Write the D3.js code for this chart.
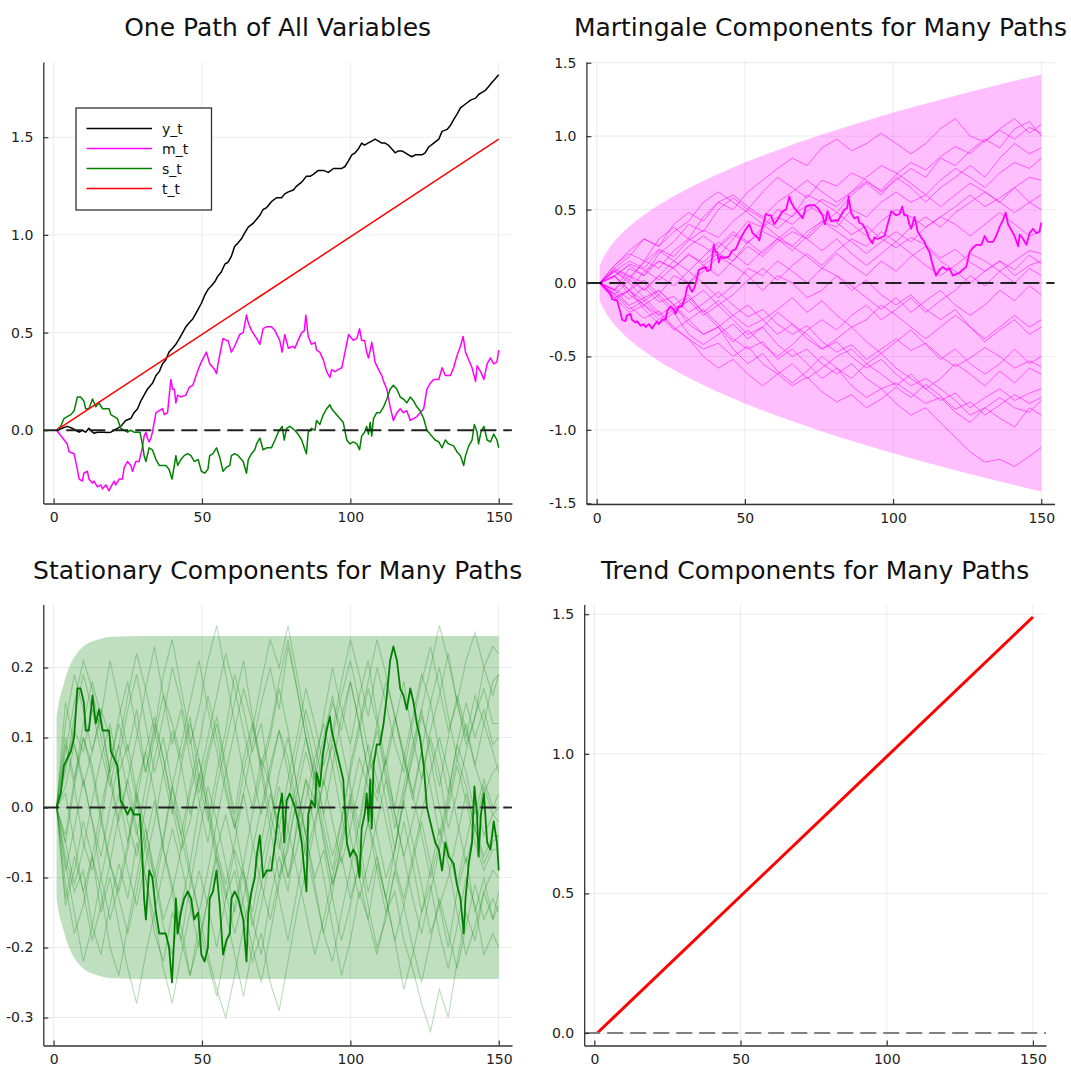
<!DOCTYPE html>
<html>
<head>
<meta charset="utf-8">
<script src="https://cdn.jsdelivr.net/npm/d3@7"></script>
<style>
  body { margin: 0; background: white; }
  svg text { font-family: "DejaVu Sans", sans-serif; }
</style>
</head>
<body>
<div id="chart"></div>
<script>
// ---- data ----
const xTicks = [0, 50, 100, 150];

// one path of all variables, [t, value]
const yPath = [[1,0],[2.9,0.01],[4.6,0.02],[6.3,0.01],[7.4,0],[8.6,-0.01],[9.7,0],[10.8,-0.01],[11.9,0.01],[13.1,-0.01],[13.6,-0.015],[14.8,-0.01],[15.9,-0.01],[17,-0.01],[18.1,-0.012],[19.3,-0.01],[20.4,0],[21.5,0.01],[22.6,0.02],[23.2,0.03],[24.3,0.05],[26,0.06],[27.1,0.09],[28.3,0.11],[29.4,0.15],[30.5,0.18],[31.6,0.21],[33.3,0.24],[34.5,0.28],[35.6,0.3],[36.7,0.34],[37.8,0.36],[38.9,0.4],[40.1,0.42],[41.2,0.44],[42.4,0.47],[43.5,0.5],[44.6,0.53],[45.7,0.55],[46.9,0.57],[48,0.6],[49.8,0.65],[50.9,0.69],[52,0.72],[53.2,0.74],[54.3,0.76],[55.4,0.79],[56.5,0.81],[57.7,0.85],[58.8,0.86],[59.9,0.89],[61,0.94],[62.2,0.96],[63.3,0.98],[64.4,1.01],[65.6,1.04],[67.3,1.06],[68.4,1.08],[69.5,1.1],[70.6,1.13],[71.8,1.14],[73.4,1.17],[75.1,1.19],[76.8,1.19],[77.9,1.21],[79.1,1.22],[80.8,1.23],[81.9,1.25],[83.6,1.27],[85.2,1.3],[86.4,1.3],[87.5,1.31],[89.2,1.33],[90.9,1.33],[92.6,1.32],[94.3,1.34],[96,1.34],[97.1,1.34],[98.2,1.35],[99.4,1.38],[100.5,1.41],[101.6,1.42],[102.7,1.44],[103.8,1.47],[104.8,1.46],[105.9,1.47],[107.2,1.48],[108.3,1.49],[109.5,1.48],[110.6,1.47],[111.7,1.47],[112.8,1.46],[114,1.44],[115.1,1.42],[116.2,1.43],[117.4,1.43],[118.5,1.42],[119.6,1.41],[120.7,1.4],[121.9,1.41],[123,1.41],[124.1,1.41],[125.2,1.42],[126.4,1.45],[128.1,1.47],[129.8,1.49],[130.9,1.53],[132.6,1.54],[133.7,1.56],[134.8,1.59],[136,1.62],[137.1,1.65],[138.8,1.67],[140.5,1.69],[142.2,1.7],[143.3,1.72],[144.4,1.73],[145.5,1.74],[146.6,1.76],[147.7,1.78],[148.9,1.8],[150,1.82]];

const mPath = [[1,0],[4.6,-0.07],[5.2,-0.11],[6.9,-0.12],[8,-0.2],[8.6,-0.25],[9.7,-0.26],[10.2,-0.22],[11.4,-0.21],[11.9,-0.25],[13.1,-0.27],[13.6,-0.26],[14.8,-0.29],[15.9,-0.28],[16.5,-0.3],[17.6,-0.28],[18.7,-0.31],[19.3,-0.29],[20.4,-0.26],[20.9,-0.28],[22.1,-0.25],[23.2,-0.25],[23.8,-0.19],[24.9,-0.16],[26,-0.18],[26.6,-0.21],[27.7,-0.16],[28.8,-0.16],[29.9,-0.09],[30.5,-0.03],[31.1,-0.01],[31.6,-0.04],[32.2,-0.06],[32.8,-0.04],[33.3,-0.01],[34.5,0.09],[35.6,0.1],[36.7,0.11],[37.3,0.08],[38.4,0.09],[39.5,0.26],[40.1,0.21],[40.7,0.21],[41.2,0.14],[41.8,0.18],[42.9,0.17],[44.6,0.18],[45.7,0.22],[46.9,0.23],[48.7,0.31],[49.8,0.35],[51.5,0.4],[52.6,0.34],[54.3,0.31],[54.9,0.29],[55.4,0.34],[57.1,0.47],[58.2,0.46],[58.8,0.46],[59.9,0.4],[61,0.43],[62.7,0.49],[63.9,0.5],[65,0.59],[65.6,0.55],[66.7,0.51],[68.4,0.47],[69.5,0.44],[70.6,0.52],[71.8,0.53],[73.4,0.53],[74.6,0.51],[76.2,0.46],[77,0.4],[77.9,0.49],[79.1,0.42],[80.8,0.43],[81.3,0.42],[82.4,0.46],[83.6,0.5],[84.5,0.51],[85,0.59],[85.8,0.48],[86.9,0.44],[88.1,0.45],[88.6,0.41],[89.7,0.4],[90.9,0.36],[92,0.3],[93.1,0.27],[93.7,0.31],[94.8,0.3],[95.9,0.31],[97.1,0.32],[98.2,0.4],[99.4,0.49],[101,0.46],[102.2,0.47],[103.1,0.52],[103.8,0.46],[104.8,0.46],[105.5,0.4],[106.1,0.37],[106.7,0.41],[107.2,0.45],[107.8,0.4],[108.3,0.35],[109.5,0.31],[110.6,0.28],[111.2,0.25],[112.3,0.21],[113.4,0.12],[114.5,0.05],[115.7,0.09],[116.8,0.11],[117.9,0.09],[119,0.1],[120.2,0.05],[121.3,0.06],[122.4,0.07],[123.5,0.09],[124.7,0.11],[125.8,0.21],[126.9,0.24],[128.1,0.26],[129.8,0.26],[130.9,0.32],[132,0.28],[133.7,0.28],[134.8,0.32],[135.9,0.38],[137.1,0.43],[138,0.48],[138.8,0.4],[139.9,0.36],[141,0.32],[142.2,0.25],[142.7,0.33],[143.9,0.3],[145,0.26],[146.1,0.34],[147.2,0.37],[148.3,0.34],[149.4,0.35],[150,0.41]];

const sPath = [[1,0],[2.4,0.02],[3.5,0.06],[4.6,0.07],[5.8,0.08],[6.9,0.1],[7.4,0.13],[8,0.17],[9.1,0.17],[10.2,0.15],[10.8,0.11],[11.9,0.11],[13.1,0.16],[14.2,0.12],[15.3,0.14],[16.5,0.11],[17.6,0.11],[18.7,0.11],[19.3,0.08],[20.4,0.07],[21.5,0.06],[22.6,0.01],[23.8,0],[24.9,-0.01],[26,0],[27.1,-0.01],[28.3,-0.01],[29.1,-0.01],[29.9,-0.07],[30.5,-0.13],[31.1,-0.16],[32.2,-0.09],[33.3,-0.1],[34.5,-0.15],[35.6,-0.18],[36.7,-0.18],[37.8,-0.18],[38.9,-0.2],[39.9,-0.25],[40.7,-0.18],[41.2,-0.13],[41.8,-0.18],[42.9,-0.15],[44,-0.13],[45.2,-0.12],[46.3,-0.13],[47.4,-0.16],[48.7,-0.15],[49.8,-0.21],[50.9,-0.22],[52,-0.2],[52.6,-0.13],[53.7,-0.12],[54.9,-0.09],[56,-0.14],[57.1,-0.21],[58.2,-0.19],[59.4,-0.18],[59.9,-0.13],[61,-0.12],[62.2,-0.13],[63.9,-0.16],[65,-0.22],[65.6,-0.15],[66.7,-0.12],[67.8,-0.1],[68.4,-0.07],[69.5,-0.04],[70.6,-0.1],[71.8,-0.09],[73.4,-0.09],[74.6,-0.05],[75.7,-0.01],[77,0.02],[77.7,-0.05],[78.5,0.01],[79.6,0.02],[81.3,0],[82.4,-0.02],[83.6,-0.05],[84.7,-0.1],[85.2,-0.12],[85.8,-0.01],[86.9,0.01],[88.1,0],[88.6,0.05],[89.7,0.03],[90.9,0.08],[92,0.11],[93.1,0.13],[93.7,0.11],[94.8,0.09],[96.5,0.06],[97.6,0.04],[98.8,-0.05],[99.9,-0.07],[101,-0.06],[102.2,-0.07],[103.1,-0.1],[103.8,-0.03],[104.8,-0.01],[105.5,0.02],[106.1,-0.02],[106.7,0.04],[107.2,-0.03],[107.8,0.06],[108.9,0.09],[110,0.09],[111.2,0.12],[112.3,0.16],[113.4,0.21],[114.5,0.23],[115.7,0.21],[116.8,0.17],[117.9,0.16],[119,0.14],[120.2,0.17],[121.3,0.15],[122.4,0.12],[123.5,0.1],[124.7,0.06],[125.8,0],[126.9,-0.02],[128.6,-0.05],[129.8,-0.06],[130.9,-0.09],[132,-0.05],[133.1,-0.07],[134.8,-0.08],[135.9,-0.11],[137.1,-0.13],[138.2,-0.18],[138.8,-0.13],[139.9,-0.08],[141,-0.05],[141.8,0.03],[142.7,-0.01],[143.2,-0.07],[144,-0.01],[145,0.02],[146.1,-0.05],[147.2,-0.06],[148.3,-0.02],[149.4,-0.05],[150,-0.09]];

const trendPath = [[1,0],[150,1.49]];

// martingale components, many paths (values at martT)
const martT = [1,6,11,16,21,26,31,36,41,46,51,56,61,66,71,76,81,86,91,96,101,106,111,116,121,126,131,136,141,146,150];
const martPaths = [
  [0,0.12,0.2,0.15,0.3,0.38,0.3,0.45,0.55,0.5,0.62,0.7,0.78,0.85,0.8,0.92,0.98,0.9,0.95,1.02,0.95,0.88,0.95,1.05,1.12,1.0,0.96,1.05,1.12,1.02,1.08],
  [0,-0.05,0.1,0.05,0.2,0.28,0.4,0.35,0.5,0.58,0.5,0.62,0.72,0.65,0.58,0.7,0.66,0.75,0.7,0.62,0.7,0.78,0.72,0.85,0.8,0.9,0.98,0.92,1.05,1.1,1.0],
  [0,0.08,0.02,0.15,0.1,0.22,0.3,0.25,0.18,0.3,0.42,0.38,0.5,0.45,0.6,0.55,0.48,0.6,0.68,0.6,0.72,0.65,0.55,0.65,0.72,0.8,0.72,0.85,0.95,0.88,0.92],
  [0,0.1,0.18,0.3,0.25,0.4,0.48,0.42,0.55,0.6,0.52,0.45,0.55,0.62,0.7,0.62,0.55,0.62,0.72,0.8,0.75,0.68,0.6,0.7,0.78,0.72,0.65,0.75,0.82,0.78,0.85],
  [0,-0.1,-0.05,-0.15,-0.08,0.05,0,0.12,0.2,0.15,0.28,0.35,0.3,0.22,0.32,0.42,0.38,0.5,0.45,0.55,0.62,0.55,0.6,0.52,0.6,0.68,0.62,0.55,0.65,0.72,0.7],
  [0,0.05,-0.05,0.08,0.15,0.1,0.2,0.12,0.05,0.15,0.25,0.18,0.28,0.35,0.3,0.4,0.48,0.4,0.32,0.42,0.5,0.45,0.38,0.45,0.52,0.6,0.52,0.58,0.65,0.55,0.6],
  [0,0.08,0.15,0.1,0.22,0.15,0.25,0.32,0.25,0.35,0.28,0.2,0.3,0.38,0.3,0.22,0.3,0.2,0.12,0.2,0.28,0.2,0.12,0.05,0.12,0.2,0.15,0.08,0.15,0.22,0.2],
  [0,-0.08,0.02,-0.05,0.05,-0.02,0.08,0,-0.1,-0.02,0.1,0.05,0.15,0.08,0,0.1,0.2,0.12,0.05,0.15,0.08,0.18,0.25,0.15,0.08,0,0.08,0.15,0.05,0.12,0.15],
  [0,0.05,0.12,0.05,0.15,0.1,0,0.08,0.18,0.12,0.05,-0.05,0.05,0,-0.1,-0.05,0.05,-0.02,-0.1,-0.18,-0.1,-0.2,-0.12,-0.05,-0.15,-0.22,-0.15,-0.05,-0.12,-0.02,-0.08],
  [0,-0.1,-0.2,-0.15,-0.25,-0.18,-0.1,-0.2,-0.3,-0.22,-0.15,-0.25,-0.18,-0.1,-0.2,-0.12,-0.22,-0.3,-0.25,-0.15,-0.22,-0.3,-0.38,-0.3,-0.22,-0.3,-0.4,-0.32,-0.25,-0.35,-0.3],
  [0,-0.12,-0.05,-0.18,-0.28,-0.2,-0.35,-0.42,-0.35,-0.28,-0.38,-0.3,-0.2,-0.28,-0.35,-0.45,-0.38,-0.3,-0.4,-0.48,-0.4,-0.32,-0.42,-0.52,-0.45,-0.55,-0.62,-0.55,-0.45,-0.55,-0.5],
  [0,0.05,-0.05,-0.12,-0.05,-0.15,-0.25,-0.35,-0.3,-0.45,-0.55,-0.48,-0.6,-0.68,-0.6,-0.5,-0.58,-0.65,-0.55,-0.62,-0.7,-0.62,-0.72,-0.65,-0.55,-0.62,-0.7,-0.6,-0.68,-0.58,-0.62],
  [0,-0.05,-0.15,-0.1,-0.2,-0.3,-0.38,-0.5,-0.58,-0.52,-0.62,-0.7,-0.62,-0.55,-0.65,-0.58,-0.5,-0.45,-0.55,-0.48,-0.58,-0.65,-0.72,-0.8,-0.75,-0.85,-0.78,-0.72,-0.8,-0.75,-0.72],
  [0,0.08,0,-0.1,-0.05,-0.15,-0.08,-0.2,-0.12,-0.22,-0.3,-0.25,-0.35,-0.28,-0.38,-0.45,-0.4,-0.5,-0.58,-0.52,-0.62,-0.7,-0.65,-0.72,-0.8,-0.9,-0.85,-0.78,-0.85,-0.88,-0.8],
  [0,-0.1,-0.05,0.02,-0.08,-0.18,-0.12,-0.22,-0.15,-0.25,-0.35,-0.3,-0.42,-0.5,-0.45,-0.55,-0.62,-0.55,-0.65,-0.72,-0.68,-0.75,-0.82,-0.78,-0.88,-0.95,-0.85,-0.92,-0.98,-0.85,-0.9],
  [0,-0.08,-0.18,-0.12,-0.22,-0.32,-0.25,-0.18,-0.28,-0.38,-0.45,-0.4,-0.52,-0.45,-0.55,-0.65,-0.58,-0.7,-0.78,-0.72,-0.82,-0.9,-0.85,-0.95,-1.05,-1.15,-1.22,-1.2,-1.25,-1.18,-1.12],
  [0,0.1,0.05,-0.05,0.05,0.15,0.08,0.18,0.28,0.2,0.12,0.22,0.3,0.25,0.35,0.42,0.35,0.28,0.2,0.28,0.35,0.28,0.38,0.45,0.4,0.32,0.4,0.48,0.4,0.32,0.35],
  [0,0.05,-0.08,-0.15,-0.22,-0.15,-0.28,-0.35,-0.3,-0.4,-0.32,-0.42,-0.5,-0.42,-0.32,-0.25,-0.32,-0.22,-0.15,-0.25,-0.18,-0.1,-0.2,-0.12,-0.05,0.05,-0.02,0.08,0,0.1,0.05],
  [0,0.12,0.22,0.3,0.25,0.35,0.42,0.55,0.62,0.55,0.48,0.4,0.32,0.25,0.18,0.1,0.05,-0.05,0.02,-0.08,-0.15,-0.08,-0.18,-0.25,-0.18,-0.3,-0.38,-0.3,-0.22,-0.3,-0.25],
  [0,-0.05,0.05,0,-0.1,-0.2,-0.12,-0.05,-0.15,-0.08,0.02,0.1,0.02,0.12,0.2,0.12,0.22,0.3,0.25,0.35,0.28,0.38,0.45,0.38,0.48,0.55,0.62,0.55,0.48,0.55,0.5],
  [0,0.09,0.04,0.14,0.23,0.18,0.29,0.36,0.31,0.42,0.5,0.44,0.37,0.46,0.53,0.47,0.41,0.33,0.39,0.3,0.24,0.31,0.26,0.17,0.23,0.14,0.08,0.15,0.09,0.19,0.13],
  [0,-0.07,-0.16,-0.24,-0.19,-0.31,-0.38,-0.45,-0.41,-0.5,-0.43,-0.55,-0.62,-0.7,-0.64,-0.74,-0.81,-0.76,-0.85,-0.79,-0.71,-0.78,-0.69,-0.77,-0.86,-0.81,-0.9,-0.83,-0.76,-0.82,-0.78],
  [0,0.04,0.13,0.09,0.02,0.11,0.19,0.14,0.24,0.33,0.27,0.38,0.45,0.4,0.49,0.57,0.52,0.62,0.69,0.63,0.74,0.82,0.77,0.86,0.93,0.88,0.97,1.04,0.98,1.06,1.02],
  [0,-0.04,-0.11,-0.03,-0.13,-0.09,-0.2,-0.14,-0.06,-0.15,-0.23,-0.18,-0.28,-0.35,-0.29,-0.4,-0.47,-0.42,-0.52,-0.45,-0.38,-0.46,-0.41,-0.5,-0.57,-0.51,-0.44,-0.5,-0.58,-0.53,-0.57]
];
const martBandT = [1,2,3,5,7,10,15,20,30,40,50,60,75,90,105,120,135,150];
const martBand = [0.116,0.164,0.201,0.259,0.307,0.367,0.449,0.519,0.635,0.733,0.82,0.898,1.004,1.1,1.188,1.27,1.347,1.42];

// stationary components, many paths (values at statT)
const statT = [1,4,7,10,13,16,19,22,25,28,31,34,37,40,43,46,49,52,55,58,61,64,67,70,73,76,79,82,85,88,91,94,97,100,103,106,109,112,115,118,121,124,127,130,133,136,139,142,145,148,150];
const statPaths = [
  [0,.06,.11,.08,.14,.12,.05,.09,.02,-.04,.03,.1,.16,.12,.07,.13,.04,-.02,.05,.11,.19,.14,.08,.12,.03,-.05,-.1,-.03,.04,.01,.09,.15,.11,.18,.12,.05,.08,.01,-.06,.02,.07,.13,.09,.03,.1,.16,.11,.06,.12,.08,.05],
  [0,-.07,-.12,-.09,-.17,-.21,-.14,-.08,-.13,-.05,-.1,-.18,-.22,-.15,-.19,-.11,-.04,.03,-.02,-.08,-.15,-.09,-.16,-.21,-.13,-.07,-.12,-.02,.04,-.03,-.1,-.17,-.24,-.19,-.12,-.16,-.08,-.13,-.06,.01,-.05,-.11,-.18,-.14,-.2,-.12,-.07,-.15,-.1,-.16,-.12],
  [0,.1,.04,.12,.18,.13,.21,.15,.08,.14,.05,.11,.19,.24,.17,.1,.02,.08,.13,.06,-.01,.07,.12,.05,.1,.17,.11,.03,-.04,.05,.13,.2,.14,.09,.16,.21,.13,.06,.12,.18,.1,.04,.11,.16,.22,.15,.09,.13,.2,.16,.19],
  [0,-.09,-.03,.04,-.02,-.1,-.16,-.11,-.05,.03,.08,.02,-.06,-.12,-.19,-.24,-.17,-.22,-.27,-.2,-.14,-.08,-.01,.05,-.03,-.1,-.06,.02,.08,.03,-.05,-.11,-.07,-.13,-.08,-.02,-.09,-.15,-.12,-.19,-.23,-.28,-.32,-.26,-.3,-.22,-.15,-.19,-.12,-.16,-.14],
  [0,.05,.13,.19,.14,.08,.03,.09,.16,.22,.17,.11,.05,-.01,.06,.12,.07,.01,-.06,-.11,-.05,.02,.09,.15,.2,.14,.23,.17,.1,.04,-.03,-.09,-.02,.06,.12,.18,.24,.19,.13,.07,.01,.08,.03,-.04,.02,.09,.05,-.01,.04,0,.02],
  [0,-.11,-.18,-.14,-.07,-.12,-.2,-.24,-.17,-.1,-.03,-.09,-.16,-.12,-.06,.02,.07,-.01,-.08,-.15,-.21,-.27,-.2,-.14,-.07,-.13,-.19,-.12,-.05,.02,-.04,-.11,-.06,.01,-.07,-.14,-.2,-.16,-.09,-.02,-.08,-.15,-.11,-.18,-.23,-.17,-.1,-.14,-.21,-.18,-.2],
  [0,.09,.03,-.05,-.09,-.02,.06,.12,.07,.01,-.06,-.12,-.05,.03,.09,.15,.21,.14,.08,.02,-.03,.05,.11,.18,.24,.2,.26,.19,.12,.06,-.01,-.07,-.02,.05,.11,.17,.12,.05,0,.07,.13,.19,.15,.08,.02,.09,.15,.1,.14,.09,.1],
  [0,-.05,.03,.1,.06,-.01,-.08,-.12,-.06,.02,-.03,-.1,-.17,-.21,-.14,-.08,0,.07,.12,.05,-.02,-.09,-.15,-.08,-.02,.05,.1,.03,-.04,-.11,-.18,-.22,-.15,-.09,-.02,.06,.11,.04,-.03,.03,.09,.14,.07,0,-.06,-.11,-.05,.01,-.04,-.01,-.02],
  [0,.12,.19,.14,.08,.13,.05,-.02,.04,.1,.17,.23,.16,.09,.14,.07,.01,-.05,.03,.09,.15,.21,.13,.06,.11,.18,.24,.17,.1,.04,.1,.16,.09,.03,-.03,.05,.12,.18,.13,.07,.02,.08,.15,.2,.13,.07,.12,.06,.02,.05,.06],
  [0,-.13,-.07,-.12,-.19,-.14,-.08,-.01,.04,-.03,-.1,-.16,-.23,-.28,-.21,-.15,-.09,-.14,-.2,-.13,-.06,-.1,-.17,-.11,-.04,.03,-.03,-.09,-.15,-.21,-.16,-.1,-.04,.02,-.05,-.12,-.07,-.13,-.19,-.14,-.08,-.02,-.08,-.14,-.1,-.04,.02,-.03,-.08,-.05,-.04],
  [0,.03,.09,.04,-.02,-.07,0,.07,.14,.19,.12,.05,.1,.03,-.04,-.1,-.15,-.09,-.02,.05,.11,.17,.12,.06,-.01,-.06,.01,.08,.14,.09,.03,.1,.16,.21,.15,.08,.02,.07,-.01,-.07,-.02,.04,.1,.05,-.03,.02,.08,.13,.17,.12,.12],
  [0,-.05,-.11,-.06,.01,.07,.12,.05,.09,.02,-.05,-.1,-.04,.03,-.02,-.09,-.15,-.21,-.26,-.3,-.24,-.17,-.11,-.05,.02,-.03,-.1,-.06,.01,.07,.12,.06,-.01,-.07,-.13,-.08,-.02,.04,-.01,-.07,-.13,-.18,-.12,-.06,0,.06,.01,-.05,-.09,-.06,-.06],
  [0,.15,.09,.03,.08,.14,.1,.04,-.02,-.07,0,.07,.13,.2,.15,.09,.14,.21,.26,.19,.12,.05,0,.07,.03,-.03,.04,.1,.17,.12,.06,.11,.18,.24,.19,.13,.2,.15,.09,.05,.12,.18,.23,.17,.11,.15,.21,.25,.2,.23,.22],
  [0,-.14,-.09,-.02,-.07,-.15,-.1,-.17,-.23,-.28,-.21,-.15,-.09,-.03,-.08,-.14,-.2,-.13,-.06,-.01,-.07,-.14,-.2,-.25,-.18,-.11,-.05,.01,-.04,-.1,-.06,-.13,-.19,-.14,-.08,-.02,-.07,-.13,-.19,-.26,-.21,-.15,-.09,-.03,-.08,-.15,-.21,-.17,-.12,-.09,-.1],
  [0,.02,-.05,-.12,-.07,0,.06,.13,.18,.11,.05,.12,.07,.01,-.04,.03,.09,.16,.1,.03,-.03,.02,-.05,-.11,-.16,-.1,-.03,.04,.1,.05,-.01,.06,.13,.18,.12,.05,.01,.07,.13,.08,.02,-.04,-.1,-.05,.01,.07,.03,-.03,-.07,-.04,-.04],
  [0,-.08,-.15,-.22,-.17,-.1,-.04,.02,-.05,.01,.08,.13,.07,0,-.06,-.02,.05,0,-.07,-.13,-.09,-.16,-.22,-.18,-.25,-.29,-.22,-.15,-.09,-.03,.04,-.02,-.08,-.03,.03,.09,.04,-.02,-.08,-.13,-.07,-.01,.05,.1,.05,-.02,-.08,-.03,.03,-.01,0],
  [0,.08,.15,.21,.17,.1,.04,-.03,-.09,-.14,-.08,-.02,.05,.11,.06,-.01,.04,.1,.16,.22,.17,.11,.05,-.01,.05,.11,.07,0,-.06,-.12,-.18,-.12,-.05,.01,.07,.03,-.04,-.1,-.06,.01,.08,.14,.2,.26,.21,.15,.1,.16,.12,.18,.19],
  [0,-.04,.04,.1,.05,-.02,-.08,-.13,-.18,-.12,-.05,.01,-.06,-.11,-.17,-.24,-.19,-.13,-.07,-.12,-.18,-.13,-.06,0,.06,.11,.05,-.01,-.07,-.02,.04,.09,.03,-.04,-.1,-.16,-.21,-.15,-.09,-.14,-.2,-.25,-.19,-.13,-.18,-.23,-.17,-.11,-.16,-.13,-.15]
];
const statBandT = [1,2,3,5,7,10,15,20,30,150];
const statBand = [0.13,0.155,0.17,0.198,0.215,0.23,0.24,0.244,0.245,0.245];

// ---- drawing ----
const W = 1071, H = 1067;
const svg = d3.select('#chart').append('svg')
  .attr('width', W).attr('height', H)
  .style('background', 'white');

const fmt = v => v.toFixed(1);

function makePanel(p) {
  const x = d3.scaleLinear().domain([-3.47, 154.47]).range([p.left, p.right]);
  const y = d3.scaleLinear().domain(p.yDomain).range([p.bottom, p.top]);
  const g = svg.append('g');

  // grid
  g.selectAll('.gx').data(xTicks).enter().append('line')
    .attr('x1', d => x(d)).attr('x2', d => x(d))
    .attr('y1', p.top).attr('y2', p.bottom)
    .attr('stroke', '#000').attr('stroke-opacity', 0.08);
  g.selectAll('.gy').data(p.yTicks).enter().append('line')
    .attr('x1', p.left).attr('x2', p.right)
    .attr('y1', d => y(d)).attr('y2', d => y(d))
    .attr('stroke', '#000').attr('stroke-opacity', 0.08);

  // title
  svg.append('text')
    .attr('x', (p.left + p.right) / 2)
    .attr('y', p.top - 26)
    .attr('text-anchor', 'middle')
    .attr('font-size', '25px')
    .attr('fill', '#111')
    .text(p.title);

  return { x, y, g, p };
}

function drawAxes(panel) {
  const { x, y, p } = panel;
  const ax = svg.append('g')
    .attr('transform', `translate(0,${p.bottom})`)
    .call(d3.axisBottom(x).tickValues(xTicks).tickFormat(d3.format('d'))
      .tickSizeInner(-5).tickSizeOuter(0).tickPadding(9));
  const ay = svg.append('g')
    .attr('transform', `translate(${p.left},0)`)
    .call(d3.axisLeft(y).tickValues(p.yTicks).tickFormat(fmt)
      .tickSizeInner(-5).tickSizeOuter(0).tickPadding(10));
  [ax, ay].forEach(a => {
    a.select('.domain').attr('stroke', '#333').attr('stroke-width', 1.3);
    a.selectAll('.tick line').attr('stroke', '#333').attr('stroke-width', 1.2);
    a.selectAll('.tick text').attr('font-size', '14px').attr('fill', '#222')
      .attr('font-family', '"DejaVu Sans", sans-serif');
  });
}

function zeroLine(panel, color) {
  const { y, p, g } = panel;
  g.append('line')
    .attr('x1', p.left).attr('x2', p.right)
    .attr('y1', y(0)).attr('y2', y(0))
    .attr('stroke', color).attr('stroke-width', 1.8)
    .attr('stroke-dasharray', '16,7');
}

const pairLine = panel => d3.line().x(d => panel.x(d[0])).y(d => panel.y(d[1]));
const zipT = (ts, vs) => ts.map((t, i) => [t, vs[i]]).filter(d => d[1] !== undefined);

// Panel 1: one path of all variables
const p1 = makePanel({ left: 43.3, right: 512, top: 62, bottom: 503.5,
  yDomain: [-0.375, 1.885], yTicks: [0, 0.5, 1.0, 1.5],
  title: 'One Path of All Variables' });
const series1 = [
  { name: 'y_t', data: yPath, color: 'black' },
  { name: 'm_t', data: mPath, color: 'magenta' },
  { name: 's_t', data: sPath, color: 'green' },
  { name: 't_t', data: trendPath, color: 'red' }
];
series1.forEach(s => {
  p1.g.append('path').datum(s.data)
    .attr('fill', 'none').attr('stroke', s.color).attr('stroke-width', 1.5)
    .attr('stroke-linejoin', 'round')
    .attr('d', pairLine(p1));
});
zeroLine(p1, '#222');
drawAxes(p1);

// legend
const leg = svg.append('g').attr('transform', 'translate(76,108)');
leg.append('rect').attr('width', 135.5).attr('height', 102)
  .attr('fill', 'white').attr('stroke', '#333').attr('stroke-width', 1.3);
series1.forEach((s, i) => {
  const yy = 20.5 + i * 20;
  leg.append('line').attr('x1', 10.5).attr('x2', 76)
    .attr('y1', yy).attr('y2', yy)
    .attr('stroke', s.color).attr('stroke-width', 1.5);
  leg.append('text').attr('x', 86).attr('y', yy + 5)
    .attr('font-size', '14px').attr('fill', '#111').text(s.name);
});

// Panel 2: martingale components
const p2 = makePanel({ left: 586.4, right: 1054.5, top: 62, bottom: 504,
  yDomain: [-1.505, 1.505], yTicks: [-1.5, -1.0, -0.5, 0, 0.5, 1.0, 1.5],
  title: 'Martingale Components for Many Paths' });
p2.g.append('path').datum(martBandT.map((t, i) => [t, martBand[i]]))
  .attr('fill', 'magenta').attr('fill-opacity', 0.25)
  .attr('d', d3.area().curve(d3.curveMonotoneX)
    .x(d => p2.x(d[0])).y0(d => p2.y(-d[1])).y1(d => p2.y(d[1])));
martPaths.forEach(vs => {
  p2.g.append('path').datum(zipT(martT, vs))
    .attr('fill', 'none').attr('stroke', 'magenta').attr('stroke-opacity', 0.55)
    .attr('stroke-width', 1).attr('d', pairLine(p2));
});
p2.g.append('path').datum(mPath)
  .attr('fill', 'none').attr('stroke', 'magenta').attr('stroke-width', 1.8)
  .attr('stroke-linejoin', 'round').attr('d', pairLine(p2));
zeroLine(p2, '#222');
drawAxes(p2);

// Panel 3: stationary components
const p3 = makePanel({ left: 43.3, right: 512, top: 604.5, bottom: 1045.5,
  yDomain: [-0.340, 0.290], yTicks: [-0.3, -0.2, -0.1, 0, 0.1, 0.2],
  title: 'Stationary Components for Many Paths' });
p3.g.append('path').datum(statBandT.map((t, i) => [t, statBand[i]]))
  .attr('fill', 'green').attr('fill-opacity', 0.25)
  .attr('d', d3.area().curve(d3.curveMonotoneX)
    .x(d => p3.x(d[0])).y0(d => p3.y(-d[1])).y1(d => p3.y(d[1])));
statPaths.forEach(vs => {
  p3.g.append('path').datum(zipT(statT, vs))
    .attr('fill', 'none').attr('stroke', 'green').attr('stroke-opacity', 0.28)
    .attr('stroke-width', 1.1).attr('d', pairLine(p3));
});
p3.g.append('path').datum(sPath)
  .attr('fill', 'none').attr('stroke', 'green').attr('stroke-width', 1.8)
  .attr('stroke-linejoin', 'round').attr('d', pairLine(p3));
zeroLine(p3, '#222');
drawAxes(p3);

// Panel 4: trend components
const p4 = makePanel({ left: 584.2, right: 1046, top: 604.5, bottom: 1045.5,
  yDomain: [-0.0447, 1.5347], yTicks: [0, 0.5, 1.0, 1.5],
  title: 'Trend Components for Many Paths' });
p4.g.append('path').datum(trendPath)
  .attr('fill', 'none').attr('stroke', 'red').attr('stroke-width', 3)
  .attr('d', pairLine(p4));
zeroLine(p4, '#808080');
drawAxes(p4);
</script>
</body>
</html>
